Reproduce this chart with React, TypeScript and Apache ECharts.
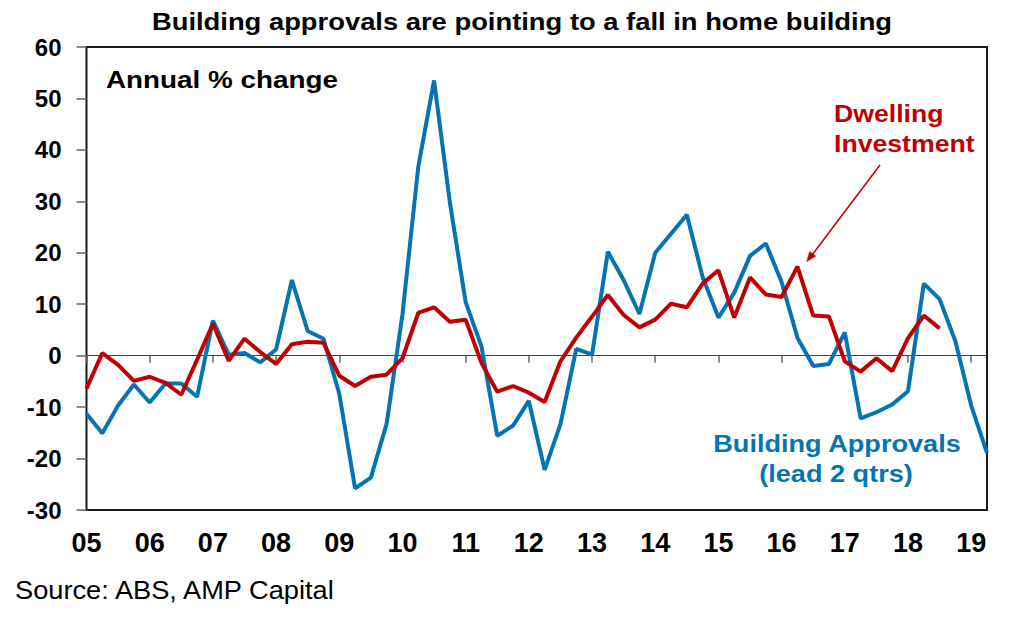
import React, { useEffect, useRef } from "react";
import * as echarts from "echarts";

// Year tick labels (one per year, first quarter)
const yearLabels = ["05", "06", "07", "08", "09", "10", "11", "12", "13", "14", "15", "16", "17", "18", "19"];
const quarterNames = ["Q1", "Q2", "Q3", "Q4"];
const quarterCount = 58; // 2005 Q1 .. 2019 Q2

// Building approvals, annual % change (lead 2 qtrs)
const buildingApprovals = [
  -11.3, -15.1, -9.7, -5.6, -9.1, -5.4, -5.4, -8.0,
  6.8, 0.2, 0.5, -1.3, 1.2, 14.7, 4.8, 3.3,
  -7.4, -25.8, -23.7, -13.2, 8.0, 36.7, 53.5, 29.8,
  10.4, 1.8, -15.6, -13.6, -8.8, -22.2, -13.3, 1.3,
  0.2, 20.2, 14.7, 8.1, 20.0, 23.7, 27.4, 15.3,
  7.4, 12.2, 19.4, 21.8, 14.3, 3.5, -2.0, -1.6,
  4.5, -12.2, -11.0, -9.5, -6.9, 14.0, 11.0, 2.8,
  -9.7, -18.9,
];

// Dwelling investment, annual % change
const dwellingInvestment = [
  -6.4, 0.5, -1.8, -4.9, -4.1, -5.3, -7.6, -0.8,
  6.2, -1.0, 3.3, 0.7, -1.6, 2.2, 2.7, 2.5,
  -3.9, -5.9, -4.1, -3.7, -0.5, 8.3, 9.4, 6.6,
  7.0, -1.4, -7.0, -5.9, -7.2, -9.0, -1.1, 3.5,
  7.6, 11.8, 7.9, 5.5, 7.0, 10.1, 9.4, 14.0,
  16.6, 7.4, 15.2, 11.9, 11.4, 17.3, 7.8, 7.6,
  -1.1, -3.1, -0.5, -3.0, 3.4, 7.8, 5.3,
];

const yMin = -30;
const yMax = 60;
const yInterval = 10;

const BLUE = "#0474B2";
const RED = "#C00000";
const FONT = "'Liberation Sans', Arial, Helvetica, sans-serif";

const categories: string[] = [];
yearLabels.forEach((y) => quarterNames.forEach((q) => categories.push(`${y} ${q}`)));
const quarterCategories = categories.slice(0, quarterCount);

export default function App() {
  const ref = useRef<HTMLDivElement>(null);

  useEffect(() => {
    if (!ref.current) return;
    const chart = echarts.init(ref.current, undefined, { renderer: "svg" });
    const option: any = {
      animation: false,
      backgroundColor: "#ffffff",
      grid: {
        left: 86.5,
        right: 37,
        top: 47,
        bottom: 110,
        show: true,
        borderColor: "#1a1a1a",
        borderWidth: 2,
        backgroundColor: "transparent",
      },
      xAxis: [
        {
          type: "category",
          data: quarterCategories,
          boundaryGap: false,
          position: "bottom",
          axisLine: { show: false, onZero: false },
          axisTick: { show: false },
          splitLine: { show: false },
          axisLabel: {
            interval: 3,
            formatter: (v: string) => v.slice(0, 2),
            color: "#000",
            fontFamily: FONT,
            fontWeight: "bold",
            fontSize: 27,
            margin: 19,
          },
        },
        {
          type: "category",
          data: quarterCategories,
          boundaryGap: false,
          position: "bottom",
          axisLine: { show: true, onZero: true, lineStyle: { color: "#444", width: 1 } },
          axisTick: { show: true, interval: 3, length: 7, inside: false, lineStyle: { color: "#666", width: 1.5 } },
          axisLabel: { show: false },
          splitLine: { show: false },
        },
      ],
      yAxis: {
        type: "value",
        min: yMin,
        max: yMax,
        interval: yInterval,
        axisLine: { show: false },
        axisTick: { show: true, length: 10, inside: false, lineStyle: { color: "#666", width: 1.5 } },
        splitLine: { show: false },
        axisLabel: {
          color: "#000",
          fontFamily: FONT,
          fontWeight: "bold",
          fontSize: 24,
          margin: 25,
        },
      },
      series: [
        {
          name: "Building Approvals (lead 2 qtrs)",
          type: "line",
          data: buildingApprovals,
          xAxisIndex: 0,
          yAxisIndex: 0,
          showSymbol: false,
          symbol: "none",
          lineStyle: { color: BLUE, width: 4 },
          itemStyle: { color: BLUE },
          z: 3,
        },
        {
          name: "Dwelling Investment",
          type: "line",
          data: dwellingInvestment,
          xAxisIndex: 0,
          yAxisIndex: 0,
          showSymbol: false,
          symbol: "none",
          lineStyle: { color: RED, width: 4 },
          itemStyle: { color: RED },
          z: 4,
        },
      ],
      graphic: [
        {
          type: "text",
          x: 522,
          y: 22,
          scaleX: 1.19,
          style: {
            text: "Building approvals are pointing to a fall in home building",
            fill: "#000",
            fontFamily: FONT,
            fontWeight: "bold",
            fontSize: 23,
            align: "center",
            textAlign: "center",
            verticalAlign: "middle",
            textVerticalAlign: "middle",
          },
        },
        {
          type: "text",
          x: 106,
          y: 80,
          scaleX: 1.16,
          style: {
            text: "Annual % change",
            fill: "#000",
            fontFamily: FONT,
            fontWeight: "bold",
            fontSize: 24,
            align: "left",
            textAlign: "left",
            verticalAlign: "middle",
            textVerticalAlign: "middle",
          },
        },
        {
          type: "text",
          x: 834,
          y: 113,
          scaleX: 1.11,
          style: {
            text: "Dwelling",
            fill: RED,
            fontFamily: FONT,
            fontWeight: "bold",
            fontSize: 24,
            align: "left",
            textAlign: "left",
            verticalAlign: "middle",
            textVerticalAlign: "middle",
          },
        },
        {
          type: "text",
          x: 834,
          y: 143,
          scaleX: 1.11,
          style: {
            text: "Investment",
            fill: RED,
            fontFamily: FONT,
            fontWeight: "bold",
            fontSize: 24,
            align: "left",
            textAlign: "left",
            verticalAlign: "middle",
            textVerticalAlign: "middle",
          },
        },
        {
          type: "line",
          shape: { x1: 880, y1: 165, x2: 812, y2: 255 },
          style: { stroke: RED, lineWidth: 1.5 },
        },
        {
          type: "polygon",
          shape: { points: [[806.7, 261.7], [815.8, 256.0], [809.6, 251.4]] },
          style: { fill: RED, stroke: RED, lineWidth: 0.5 },
        },
        {
          type: "text",
          x: 837,
          y: 444,
          scaleX: 1.13,
          style: {
            text: "Building Approvals",
            fill: BLUE,
            fontFamily: FONT,
            fontWeight: "bold",
            fontSize: 24,
            align: "center",
            textAlign: "center",
            verticalAlign: "middle",
            textVerticalAlign: "middle",
          },
        },
        {
          type: "text",
          x: 836,
          y: 474,
          scaleX: 1.13,
          style: {
            text: "(lead 2 qtrs)",
            fill: BLUE,
            fontFamily: FONT,
            fontWeight: "bold",
            fontSize: 24,
            align: "center",
            textAlign: "center",
            verticalAlign: "middle",
            textVerticalAlign: "middle",
          },
        },
        {
          type: "text",
          x: 15,
          y: 590,
          scaleX: 1.09,
          style: {
            text: "Source: ABS, AMP Capital",
            fill: "#000",
            fontFamily: FONT,
            fontWeight: "normal",
            fontSize: 25,
            align: "left",
            textAlign: "left",
            verticalAlign: "middle",
            textVerticalAlign: "middle",
          },
        },
      ],
    };
    chart.setOption(option);
    return () => chart.dispose();
  }, []);

  return (
    <div
      ref={ref}
      style={{ position: "absolute", left: 0, top: 0, width: 1024, height: 620, background: "#fff" }}
    />
  );
}
